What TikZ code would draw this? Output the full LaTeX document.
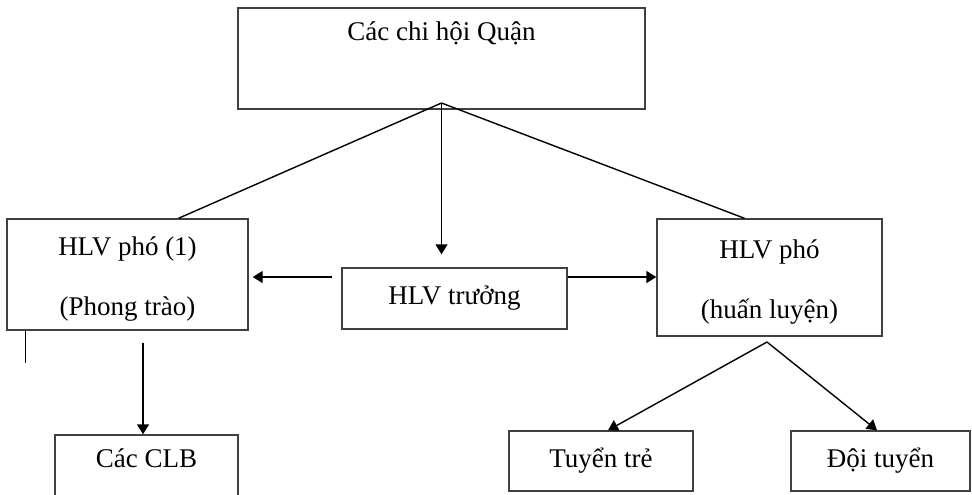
\documentclass[tikz,border=0pt]{standalone}
\usepackage{fontspec}
\setmainfont{Liberation Serif}
\usetikzlibrary{arrows.meta,calc}

\begin{document}
\begin{tikzpicture}[x=0.5pt,y=-0.5pt,
		box/.style={draw=black!75,line width=0.7pt,inner sep=0pt,align=center,font=\fontsize{13.5}{30}\selectfont},
		twoline/.style={text height=43.5pt,text depth=2.7pt},
		toptext/.style={label={[anchor=base,inner sep=0pt,yshift=-16.8pt,font=\fontsize{13.5}{16}\selectfont]north:#1}},
		link/.style={line width=0.7pt},
		arr/.style={link,-{Triangle[length=5pt,width=6pt]}}]
		\useasboundingbox (0,0) rectangle (972,494);
		\clip (0,0) rectangle (972,494);

		% boxes
		\node[box,minimum width=203.5pt,minimum height=50.5pt,toptext={Các chi hội Quận}] (chihoi) at (441.5,58.5) {};
		\node[box,twoline,minimum width=120.5pt,minimum height=55.5pt] (pho1) at (127.5,274.5) {HLV phó (1)\\(Phong trào)};
		\node[box,minimum width=112.5pt,minimum height=30.5pt] (truong) at (454.5,298.5) {HLV trưởng};
		\node[box,twoline,minimum width=112.5pt,minimum height=58.5pt] (phohl) at (769.5,277.5) {HLV phó\\(huấn luyện)};
		\node[box,minimum width=91.5pt,minimum height=40pt,toptext={Các CLB}] (clb) at (146.5,475) {};
		\node[box,minimum width=92pt,minimum height=30pt] (tre) at (601,461) {Tuyển trẻ};
		\node[box,minimum width=89.5pt,minimum height=30pt] (doi) at (880.5,461) {Đội tuyển};

		\coordinate (apex) at (441.5,103);
		\coordinate (apexhl) at (767,342);

		% links
		\draw[link] (apex) -- ($(pho1.north)+(51,0)$);
		\draw[link] (apex) -- ($(phohl.north)+(-25,0)$);
		\draw[arr,shorten >=6.5pt] (apex) -- (apex |- truong.north);
		\draw[arr] ($(truong.west)+(-9,-21.5)$) -- ($(pho1.east)+(4,2.5)$);
		\draw[arr] ($(truong.east)+(0,-21.5)$) -- ($(phohl.west)+(0,-0.5)$);
		\draw[arr] ($(pho1.south)+(15.5,12)$) -- ($(clb.north)+(-3.5,0)$);
		\draw[link] ($(pho1.south west)+(19,0)$) -- ++(0,32);
		\draw[arr] (apexhl) -- ($(tre.north)+(7,0)$);
		\draw[arr] (apexhl) -- ($(doi.north)+(-3.5,0)$);
\end{tikzpicture}
\end{document}
